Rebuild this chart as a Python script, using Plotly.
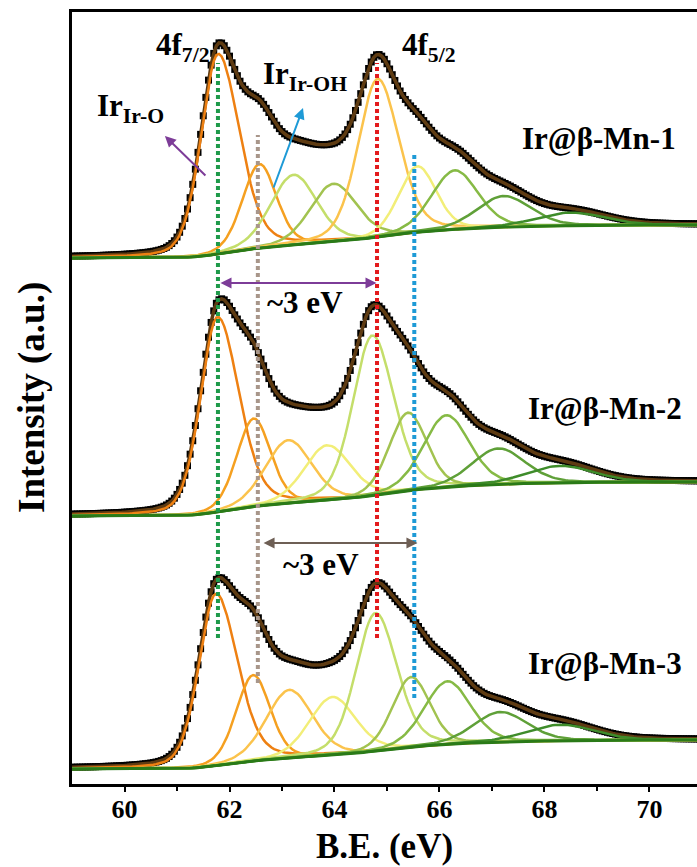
import numpy as np
import plotly.graph_objects as go

# Binding-energy grid of the Ir 4f scans (eV)
be = np.round(np.arange(59.0, 70.95, 0.05), 2)

samples = ["Ir@β-Mn-1", "Ir@β-Mn-2", "Ir@β-Mn-3"]

# Shirley background end levels (stacked intensity, a.u.)
bg_low = [526, 268, 15]
bg_high = [559, 302, 44]

# Fitted component centres (eV)
centers_1 = [61.78, 62.57, 63.22, 63.98, 64.82, 65.58, 66.29, 67.22, 68.50]
centers_2 = [61.77, 62.46, 63.12, 63.86, 64.72, 65.40, 66.13, 67.12, 68.30]
centers_3 = [61.74, 62.45, 63.14, 63.96, 64.78, 65.46, 66.15, 67.16, 68.30]

# Fitted component heights above background (a.u.)
heights_1 = [200, 84, 70, 58, 158, 66, 59, 31, 13]
heights_2 = [195, 88, 63, 55, 160, 78, 72, 36, 17]
heights_3 = [172, 86, 68, 58, 138, 70, 63, 30, 16]

# Line-shape parameters shared by the three fits
hwhm_left = [0.38, 0.38, 0.52, 0.52, 0.44, 0.42, 0.52, 0.60, 0.75]
hwhm_right = [0.48, 0.38, 0.52, 0.52, 0.48, 0.42, 0.52, 0.60, 0.75]
lorentz_mix = [0.25, 0.2, 0.2, 0.2, 0.25, 0.2, 0.2, 0.2, 0.2]

C_OR_D = "#EE8012"
C_OR = "#F5A020"
C_OR_L = "#FBC34C"
C_YEL = "#F2EE78"
C_LG = "#C4DE6A"
C_OL = "#A2C350"
C_GR = "#86BA45"
C_GR2 = "#5FA038"
C_DG = "#3E8C2A"
C_BG = "#2A7A18"
C_ENV = "#5E3B12"

colors_1 = [C_OR_D, C_OR, C_LG, C_OL, C_OR_L, C_YEL, C_GR, C_GR2, C_DG]
colors_23 = [C_OR_D, C_OR, C_OR_L, C_YEL, C_LG, C_OL, C_GR, C_GR2, C_DG]

panels = [
    (centers_1, heights_1, colors_1),
    (centers_2, heights_2, colors_23),
    (centers_3, heights_3, colors_23),
]


def pseudo_voigt(x, c, h, wl, wr, eta):
    d = x - c
    w = np.where(d < 0, wl, wr)
    u = (d / w) ** 2
    return h * ((1 - eta) * np.exp(-np.log(2) * u) + eta / (1 + u))


fig = go.Figure()

for k, (cen, hei, cols) in enumerate(panels):
    comps = [pseudo_voigt(be, c, h, wl, wr, m)
             for c, h, wl, wr, m in zip(cen, hei, hwhm_left, hwhm_right, lorentz_mix)]
    total = np.sum(comps, axis=0)
    frac = np.cumsum(total) / np.sum(total)
    bg = bg_low[k] + (bg_high[k] - bg_low[k]) * frac
    env = bg + total

    fig.add_trace(go.Scatter(x=be, y=env, mode="markers",
                             marker=dict(symbol="square", size=7, color="black"),
                             showlegend=False, hoverinfo="skip"))
    fig.add_trace(go.Scatter(x=be, y=env, mode="lines",
                             line=dict(color=C_ENV, width=3.5),
                             showlegend=False, hoverinfo="skip"))
    for comp, col in zip(comps, cols):
        fig.add_trace(go.Scatter(x=be, y=bg + comp, mode="lines",
                                 line=dict(color=col, width=2.5),
                                 showlegend=False, hoverinfo="skip"))
    fig.add_trace(go.Scatter(x=be, y=bg, mode="lines",
                             line=dict(color=C_BG, width=3),
                             showlegend=False, hoverinfo="skip"))

# Reference lines for the Ir-O / Ir-OH doublets
guides = [
    (61.78, 146, 721, "#1E9A4A"),
    (62.54, 101, 649, "#A8968A"),
    (64.81, 146, 721, "#E31A1C"),
    (65.52, 86, 632, "#1E9AD6"),
]
for gx, y0, y1, col in guides:
    fig.add_shape(type="line", xref="x", yref="y", x0=gx, x1=gx, y0=y0, y1=y1,
                  line=dict(color=col, width=4, dash="4px,3px"))

serif = "Liberation Serif"


def label(x, y, text, size, xanchor="center"):
    fig.add_annotation(x=x, y=y, xref="x", yref="y", text=text, showarrow=False,
                       xanchor=xanchor,
                       font=dict(family=serif, size=size, color="black", weight="bold"))


def arrow(x, y, ax, ay, color, both=False):
    fig.add_annotation(x=x, y=y, ax=ax, ay=ay, xref="x", yref="y", axref="x", ayref="y",
                       text="", showarrow=True, arrowhead=2, arrowsize=1.1, arrowwidth=2,
                       arrowcolor=color, arrowside="end+start" if both else "end")


label(61.66, 737, "4f<sub>7/2</sub>", 31, xanchor="right")
label(65.80, 737, "4f<sub>5/2</sub>", 31)
label(63.44, 708, "Ir<sub>Ir-OH</sub>", 31)
label(60.11, 676, "Ir<sub>Ir-O</sub>", 31)
label(69.04, 646, samples[0], 31)
label(69.15, 376, samples[1], 31)
label(69.15, 121, samples[2], 31)
label(63.44, 482, "~3 eV", 31)
label(63.74, 220, "~3 eV", 31)

arrow(60.77, 648, 61.57, 607, "#7D3C98")
arrow(63.40, 676, 62.83, 595, "#1E9AD6")
arrow(64.80, 501, 61.80, 501, "#7D3C98", both=True)
arrow(65.58, 241, 62.62, 241, "#6E5F55", both=True)

fig.update_layout(
    width=697, height=867,
    margin=dict(l=72, r=0, t=12, b=83),
    plot_bgcolor="white", paper_bgcolor="white",
    font=dict(family=serif, color="black"),
    xaxis=dict(range=[59, 70.905], showline=True, linecolor="black", linewidth=2.5,
               mirror=True, ticks="outside", ticklen=5, tickwidth=2, tickcolor="black",
               tickvals=[60, 62, 64, 66, 68, 70], showgrid=False, zeroline=False,
               ticklabelstandoff=-5,
               minor=dict(tickvals=[61, 63, 65, 67, 69], ticks="outside", ticklen=4,
                          tickwidth=2, tickcolor="black"),
               tickfont=dict(family=serif, size=26, weight="bold")),
    yaxis=dict(range=[0, 772], showline=True, linecolor="black", linewidth=2.5,
               showticklabels=False, ticks="", showgrid=False, zeroline=False),
)

fig.add_annotation(x=0.5, y=-0.0815, xref="paper", yref="paper", text="B.E. (eV)",
                   showarrow=False, xanchor="center", yanchor="middle",
                   font=dict(family=serif, size=35, weight="bold"))
fig.add_annotation(x=-0.064, y=0.5, xref="paper", yref="paper", text="Intensity (a.u.)",
                   showarrow=False, textangle=-90, xanchor="center", yanchor="middle",
                   font=dict(family=serif, size=37, weight="bold"))

fig.write_html("out.html")
